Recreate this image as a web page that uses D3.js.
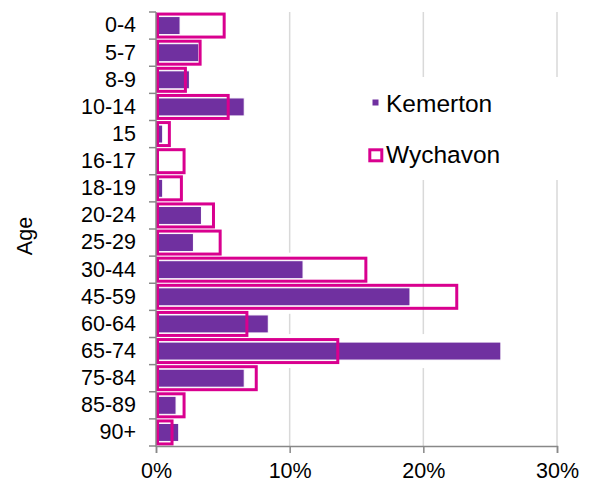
<!DOCTYPE html>
<html><head><meta charset="utf-8">
<script src="https://cdn.jsdelivr.net/npm/d3@7"></script>
<style>body{margin:0;background:#fff}svg{display:block}text{font-family:"Liberation Sans",Arial,sans-serif;fill:#000}</style>
</head><body>
<svg id="c" width="595" height="483"></svg>
<script>
const categories = ["0-4","5-7","8-9","10-14","15","16-17","18-19","20-24","25-29","30-44","45-59","60-64","65-74","75-84","85-89","90+"];
const kemerton = [1.8,3.2,2.5,6.6,0.5,0.1,0.5,3.4,2.8,11.0,19.0,8.4,25.8,6.6,1.5,1.7];
const wychavon = [5.1,3.3,2.2,5.4,1.0,2.1,1.9,4.3,4.8,15.7,22.5,6.8,13.6,7.5,2.1,1.2];
const xTicks = [0,10,20,30];
const seriesNames = ["Kemerton","Wychavon"];

const purple = "#7030A0", magenta = "#D9008F", axisCol = "#888888", gridCol = "#D9D9D9";
const FONT = "Liberation Sans, Arial, sans-serif";
const svg = d3.select("#c");
const x = d3.scaleLinear().domain([0,30]).range([156,557]);
const y = d3.scaleBand().domain(categories).range([12,446]).paddingInner(0).paddingOuter(0);
const bw = y.bandwidth();

// gridlines
svg.append("g").selectAll("line").data(xTicks.filter(d=>d>0)).join("line")
  .attr("x1",d=>x(d)).attr("x2",d=>x(d)).attr("y1",12).attr("y2",446)
  .attr("stroke",gridCol).attr("stroke-width",1.5);

// Kemerton halo
svg.append("g").selectAll("rect").data(categories).join("rect")
  .attr("x",x(0)).attr("width",(d,i)=>Math.max(0,x(kemerton[i])-x(0)))
  .attr("y",d=>y(d)+bw/2-17).attr("height",34).attr("fill","#fff");
// Kemerton bars
svg.append("g").selectAll("rect").data(categories).join("rect")
  .attr("x",x(0)+1.5).attr("width",(d,i)=>Math.max(0.5,x(kemerton[i])-x(0)-1.5))
  .attr("y",d=>y(d)+bw/2-9).attr("height",18).attr("fill",purple)
  .attr("stroke","#fff").attr("stroke-width",1);
// Wychavon outlines
svg.append("g").selectAll("rect").data(categories).join("rect")
  .attr("x",x(0)+1.5).attr("width",(d,i)=>x(wychavon[i])-x(0)-1.5)
  .attr("y",d=>y(d)+bw/2-11.5).attr("height",23).attr("fill","none")
  .attr("stroke",magenta).attr("stroke-width",3);

// y axis
const yAxis = d3.axisLeft(y).tickSize(0).tickPadding(20);
const gy = svg.append("g").attr("transform","translate(156,0)").call(yAxis);
gy.select(".domain").remove();
gy.selectAll("text").attr("font-size",21.5).attr("fill","#000").attr("font-family",FONT);
// boundary ticks
const bounds = categories.map(c=>y(c)).concat([446]);
svg.append("g").selectAll("line").data(bounds).join("line")
  .attr("x1",149).attr("x2",156).attr("y1",d=>d).attr("y2",d=>d)
  .attr("stroke",axisCol).attr("stroke-width",1.5);
svg.append("line").attr("x1",156).attr("x2",156).attr("y1",12).attr("y2",446.75)
  .attr("stroke",axisCol).attr("stroke-width",1.5);

// x axis
const xAxis = d3.axisBottom(x).tickValues(xTicks).tickFormat(d=>d+"%").tickSize(7).tickPadding(0);
const gx = svg.append("g").attr("transform","translate(0,446)").call(xAxis);
gx.select(".domain").attr("stroke",axisCol).attr("stroke-width",1.5);
gx.selectAll(".tick line").attr("stroke",axisCol).attr("stroke-width",1.5);
gx.selectAll("text").attr("font-size",21.5).attr("fill","#000").attr("font-family",FONT)
  .attr("dy",null).attr("y",32);

// y title
svg.append("text").attr("transform","translate(32,236) rotate(-90)").attr("text-anchor","middle")
  .attr("font-size",21.5).text("Age");

// legend
const lg = svg.append("g");
lg.append("rect").attr("x",360).attr("y",77).attr("width",205).attr("height",103).attr("fill","#fff");
lg.append("rect").attr("x",372.5).attr("y",99.5).attr("width",6).attr("height",6).attr("fill",purple);
lg.append("text").attr("x",386).attr("y",111.5).attr("font-size",24.5).text(seriesNames[0]);
lg.append("rect").attr("x",369.8).attr("y",149.8).attr("width",12).attr("height",11).attr("fill","none")
  .attr("stroke",magenta).attr("stroke-width",3);
lg.append("text").attr("x",386).attr("y",162.5).attr("font-size",24.5).text(seriesNames[1]);
</script>
</body></html>
